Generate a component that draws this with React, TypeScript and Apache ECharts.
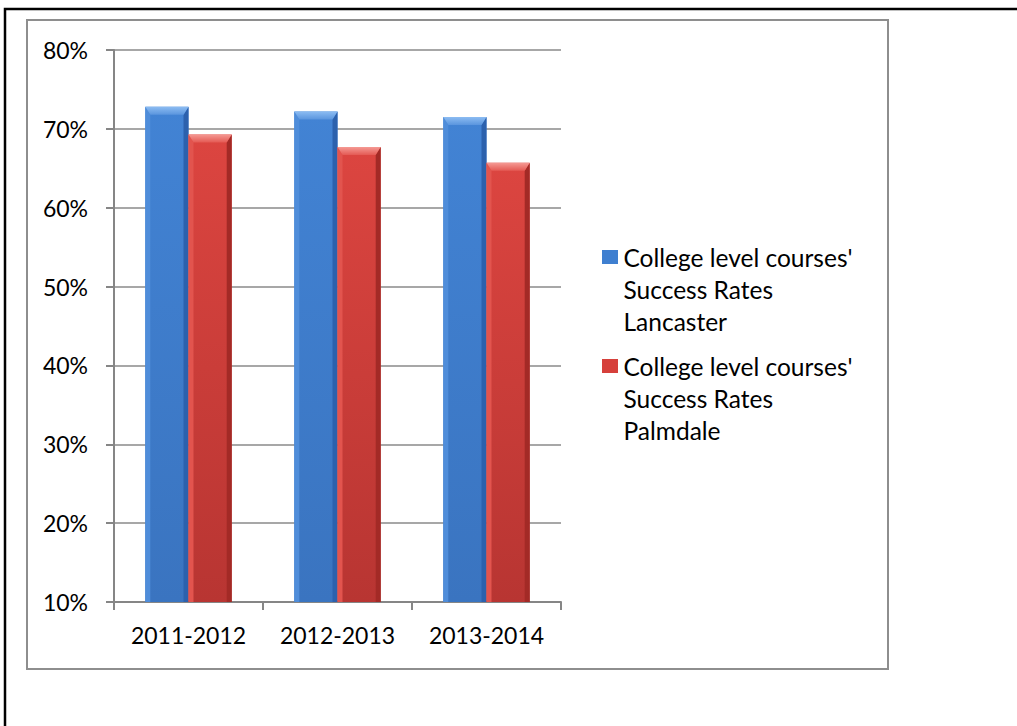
import React, { useEffect, useRef } from "react";
import * as echarts from "echarts";

const categories = ["2011-2012", "2012-2013", "2013-2014"];
const lancaster = [72.8, 72.2, 71.5];
const palmdale = [69.3, 67.7, 65.7];
const seriesNames = [
  "College level courses'\nSuccess Rates\nLancaster",
  "College level courses'\nSuccess Rates\nPalmdale",
];
const yMin = 10;
const yMax = 80;
const yInterval = 10;

const palettes = [
  {
    legend: "#3f7fd0",
    bodyTop: "#4283d4",
    bodyBottom: "#3a74c0",
    left: "#4f8dda",
    right: "#2c61ad",
    topLight: "#8cbcf2",
    topDark: "#5a95de",
  },
  {
    legend: "#d6403b",
    bodyTop: "#dc4540",
    bodyBottom: "#b83532",
    left: "#e2544e",
    right: "#a32a26",
    topLight: "#f59a94",
    topDark: "#e45a54",
  },
];

function makeRender(idx: number) {
  const pal = palettes[idx];
  return (params: any, api: any) => {
    const ci = api.value(0);
    const v = api.value(1);
    const top = api.coord([ci, v]);
    const base = api.coord([ci, yMin]);
    const band = api.size([1, 0])[0];
    const w = band * 0.29;
    const x0 = idx === 0 ? top[0] - w : top[0];
    const y0 = top[1];
    const y1 = base[1];
    const h = y1 - y0;
    const b = 8;
    const s = 5;
    return {
      type: "group",
      children: [
        {
          type: "rect",
          shape: { x: x0, y: y0, width: w, height: h },
          style: {
            fill: new echarts.graphic.LinearGradient(0, 0, 0, 1, [
              { offset: 0, color: pal.bodyTop },
              { offset: 1, color: pal.bodyBottom },
            ]),
          },
        },
        {
          type: "polygon",
          shape: { points: [[x0, y0], [x0 + s, y0 + b], [x0 + s, y1], [x0, y1]] },
          style: { fill: pal.left },
        },
        {
          type: "polygon",
          shape: { points: [[x0 + w, y0], [x0 + w - s, y0 + b], [x0 + w - s, y1], [x0 + w, y1]] },
          style: { fill: pal.right },
        },
        {
          type: "polygon",
          shape: { points: [[x0, y0], [x0 + w, y0], [x0 + w - s, y0 + b], [x0 + s, y0 + b]] },
          style: {
            fill: new echarts.graphic.LinearGradient(0, 0, 0, 1, [
              { offset: 0, color: pal.topLight },
              { offset: 1, color: pal.topDark },
            ]),
          },
        },
      ],
    };
  };
}

export default function App() {
  const ref = useRef<HTMLDivElement>(null);
  useEffect(() => {
    if (!ref.current) return;
    const chart = echarts.init(ref.current, null, { renderer: "svg" });
    const font = "Lato, 'Open Sans', sans-serif";
    chart.setOption({
      animation: false,
      backgroundColor: "#ffffff",
      graphic: [
        {
          type: "rect",
          silent: true,
          z: -10,
          shape: { x: 5, y: 9, width: 1200, height: 900 },
          style: { fill: "none", stroke: "#000000", lineWidth: 2.5 },
        },
        {
          type: "rect",
          silent: true,
          z: -10,
          shape: { x: 27, y: 20, width: 861, height: 649 },
          style: { fill: "none", stroke: "#8e8e8e", lineWidth: 2 },
        },
      ],
      grid: { left: 114, top: 50, width: 447, height: 552, containLabel: false },
      legend: {
        orient: "vertical",
        left: 597,
        top: 236,
        padding: 5,
        itemWidth: 17,
        itemHeight: 96,
        itemGap: 13,
        icon: "path://M0,9L16,9L16,23L0,23Z M0,0L0.01,0L0.01,0.01Z M0,96L0.01,96L0.01,95.99Z",
        textStyle: { fontFamily: font, fontSize: 24.5, lineHeight: 32, color: "#000000" },
        data: seriesNames,
      },
      xAxis: {
        type: "category",
        data: categories,
        axisLine: { lineStyle: { color: "#868686", width: 2 } },
        axisTick: { show: true, length: 8, lineStyle: { color: "#868686", width: 2 } },
        axisLabel: { fontFamily: font, fontSize: 23, color: "#000000", margin: 21, interval: 0 },
      },
      yAxis: {
        type: "value",
        min: yMin,
        max: yMax,
        interval: yInterval,
        axisLine: { show: true, lineStyle: { color: "#868686", width: 2 } },
        axisTick: { show: true, length: 8, lineStyle: { color: "#868686", width: 2 } },
        splitLine: { lineStyle: { color: "#8a8a8a", width: 1.5 } },
        axisLabel: { fontFamily: font, fontSize: 23, color: "#000000", margin: 26, formatter: "{value}%" },
      },
      series: [
        {
          type: "custom",
          name: seriesNames[0],
          itemStyle: { color: palettes[0].legend },
          encode: { x: 0, y: 1 },
          data: lancaster.map((v, i) => [i, v]),
          renderItem: makeRender(0),
        },
        {
          type: "custom",
          name: seriesNames[1],
          itemStyle: { color: palettes[1].legend },
          encode: { x: 0, y: 1 },
          data: palmdale.map((v, i) => [i, v]),
          renderItem: makeRender(1),
        },
      ],
    });
    return () => chart.dispose();
  }, []);
  return (
    <div
      ref={ref}
      style={{ position: "absolute", left: 0, top: 0, width: 1017, height: 726 }}
    />
  );
}
